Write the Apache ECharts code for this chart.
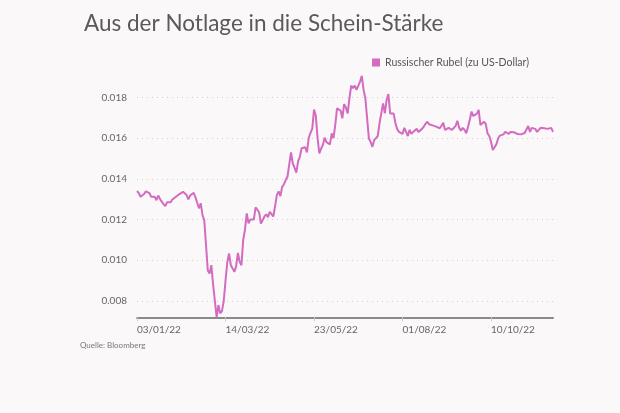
<!DOCTYPE html>
<html>
<head>
<meta charset="utf-8">
<script src="https://cdn.jsdelivr.net/npm/echarts@6/dist/echarts.min.js"></script>
<style>
html,body{margin:0;padding:0;background:#fbf8fa;}
#c{width:620px;height:413px;}
</style>
</head>
<body>
<div id="c"></div>
<script>
const titleText = 'Aus der Notlage in die Schein-Stärke';
const seriesName = 'Russischer Rubel (zu US-Dollar)';
const sourceText = 'Quelle: Bloomberg';
const startDate = [2022, 0, 3];
const dayCount = 236;
const rubValues = [
0.01340,0.01330,0.01312,0.01315,0.01325,0.01338,0.01345,0.01330,0.01312,0.01310,
0.01312,0.01295,0.01318,0.01300,0.01292,0.01276,0.01266,0.01285,0.01280,0.01285,
0.01298,0.01305,0.01312,0.01318,0.01325,0.01330,0.01336,0.01340,0.01320,0.01299,
0.01318,0.01325,0.01331,0.01310,0.01282,0.01255,0.01280,0.01222,0.01197,0.01200,
0.00950,0.00935,0.00976,0.00880,0.00800,0.00720,0.00780,0.00740,0.00750,0.00800,
0.00900,0.00990,0.01033,0.00976,0.00960,0.00943,0.00970,0.01036,0.00992,0.00976,
0.01100,0.01150,0.01230,0.01181,0.01200,0.01195,0.01200,0.01260,0.01248,0.01235,
0.01180,0.01172,0.01215,0.01225,0.01212,0.01238,0.01232,0.01215,0.01265,0.01320,
0.01338,0.01315,0.01360,0.01372,0.01394,0.01410,0.01470,0.01530,0.01475,0.01455,
0.01430,0.01485,0.01508,0.01550,0.01548,0.01555,0.01530,0.01600,0.01625,0.01645,
0.01740,0.01710,0.01600,0.01525,0.01548,0.01566,0.01602,0.01580,0.01575,0.01569,
0.01623,0.01600,0.01664,0.01746,0.01750,0.01735,0.01697,0.01766,0.01750,0.01720,
0.01795,0.01857,0.01845,0.01857,0.01836,0.01840,0.01877,0.01905,0.01836,0.01795,
0.01800,0.01598,0.01580,0.01557,0.01590,0.01600,0.01610,0.01672,0.01680,0.01770,
0.01721,0.01787,0.01816,0.01721,0.01722,0.01720,0.01672,0.01643,0.01630,0.01623,
0.01620,0.01650,0.01630,0.01610,0.01640,0.01620,0.01630,0.01632,0.01645,0.01630,
0.01635,0.01645,0.01656,0.01670,0.01680,0.01668,0.01665,0.01662,0.01660,0.01656,
0.01650,0.01648,0.01660,0.01675,0.01640,0.01640,0.01650,0.01648,0.01640,0.01642,
0.01660,0.01685,0.01650,0.01636,0.01650,0.01640,0.01623,0.01656,0.01690,0.01730,
0.01708,0.01715,0.01720,0.01738,0.01664,0.01672,0.01680,0.01670,0.01623,0.01610,
0.01582,0.01541,0.01555,0.01570,0.01598,0.01612,0.01620,0.01618,0.01630,0.01625,
0.01620,0.01630,0.01633,0.01628,0.01630,0.01620,0.01622,0.01618,0.01620,0.01625,
0.01630,0.01659,0.01630,0.01650,0.01648,0.01645,0.01630,0.01640,0.01650,0.01652,
0.01648,0.01640,0.01645,0.01652,0.01650,0.01630
];
const yMin = 0.0072;
const yMax = 0.018;
const labelEvery = 50;

// business-day categories
const categories = [];
(function(){
  const d = new Date(startDate[0], startDate[1], startDate[2]);
  while (categories.length < dayCount) {
    const wd = d.getDay();
    if (wd !== 0 && wd !== 6) {
      const dd = String(d.getDate()).padStart(2,'0');
      const mm = String(d.getMonth()+1).padStart(2,'0');
      const yy = String(d.getFullYear()).slice(2);
      categories.push(dd + '/' + mm + '/' + yy);
    }
    d.setDate(d.getDate()+1);
  }
})();

const FONT = 'Lato, "Open Sans", sans-serif';
const chart = echarts.init(document.getElementById('c'), null, {renderer:'canvas'});
chart.setOption({
  backgroundColor: '#fbf8fa',
  animation: false,
  title: {
    text: titleText, left: 79, top: 7,
    textStyle: {fontFamily: FONT, fontSize: 22.5, fontWeight: 'normal', color: '#5a5a5a'}
  },
  legend: {
    data: [seriesName], right: 86, top: 52,
    icon: 'rect', itemWidth: 8, itemHeight: 8, itemGap: 6,
    textStyle: {fontFamily: FONT, fontSize: 10.5, color: '#555'}
  },
  graphic: [{
    type: 'text', left: 80, top: 341,
    style: {text: sourceText, fontFamily: FONT, fontSize: 8, fill: '#777'}
  }],
  grid: {left: 137, right: 67, top: 97.3, bottom: 95.7, containLabel: false},
  xAxis: {
    type: 'category', data: categories, boundaryGap: false,
    axisLine: {lineStyle: {color: '#8a8a8a', width: 2}},
    axisTick: {show: true, interval: labelEvery - 1, length: 4, lineStyle: {color: '#ccc'}},
    axisLabel: {interval: labelEvery - 1, align: 'left', margin: 7,
      fontFamily: FONT, fontSize: 10, color: '#666'},
    splitLine: {show: false}
  },
  yAxis: {
    type: 'value', min: yMin, max: yMax, splitNumber: 5,
    axisLine: {show: false}, axisTick: {show: false},
    axisLabel: {showMinLabel: false, margin: 10, fontFamily: FONT, fontSize: 10, color: '#666',
      formatter: v => v.toFixed(3)},
    splitLine: {lineStyle: {color: '#cfcfcf', type: [1, 4], width: 1}}
  },
  series: [{
    name: seriesName, type: 'line', data: rubValues, showSymbol: false,
    clip: false, smooth: false,
    lineStyle: {color: '#d36bc0', width: 2}, itemStyle: {color: '#d36bc0'}
  }]
});
</script>
</body>
</html>
